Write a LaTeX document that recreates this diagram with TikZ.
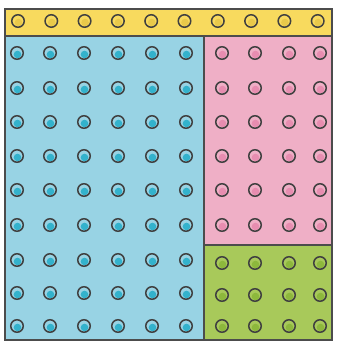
\documentclass[tikz,border=0pt]{standalone}
\usetikzlibrary{positioning}

\definecolor{stripyellow}{HTML}{F8DA5E}
\definecolor{zoneblue}{HTML}{98D3E4}
\definecolor{zonepink}{HTML}{EFAFC6}
\definecolor{zonegreen}{HTML}{A8C95A}
\definecolor{dotyellow}{HTML}{E9C94A}
\definecolor{dotblue}{HTML}{33B2CC}
\definecolor{dotpink}{HTML}{E78DB0}
\definecolor{dotgreen}{HTML}{8DB83C}

\begin{document}
\begin{tikzpicture}[
            x=1pt, y=-1pt,
            zone/.style={draw=black!70, line width=1.2pt},
            dot/.style={circle, draw=black!75, line width=1.5pt, minimum size=12.5pt, inner sep=0pt,
                path picture={\fill[#1] ([xshift=0.5pt,yshift=-1.5pt]path picture bounding box.center) circle (3.8pt);}}
        ]
            \useasboundingbox (0,0) rectangle (337,347);
            % Colour zones
            \fill[stripyellow] (5,9) rectangle (332,36);
            \fill[zoneblue] (5,36) rectangle (204,340);
            \fill[zonepink] (204,36) rectangle (332,245);
            \fill[zonegreen] (204,245) rectangle (332,340);
            \draw[zone] (5,36) -- (332,36);
            \draw[zone] (204,36) -- (204,340);
            \draw[zone] (204,245) -- (332,245);
            \draw[zone] (5,9) rectangle (332,340);
            % Top strip
            \foreach \i in {1,...,10} {
                \node[dot=dotyellow] (s\i) at ({18+(\i-1)*33.3}, 21) {};
            }
            % Blue block
            \foreach \r/\y in {1/53,2/88,3/122,4/156,5/190,6/225,7/260,8/293,9/326} {
                \foreach \c/\x in {1/17,2/50,3/84,4/118,5/152,6/186} {
                    \node[dot=dotblue] (b\r\c) at (\x, \y) {};
                }
            }
            % Pink block
            \foreach \r/\y in {1/53,2/88,3/122,4/156,5/190,6/225} {
                \foreach \c/\x in {1/222,2/255,3/289,4/320} {
                    \node[dot=dotpink] (p\r\c) at (\x, \y) {};
                }
            }
            % Green block
            \foreach \r/\y in {1/263,2/295,3/326} {
                \foreach \c/\x in {1/222,2/255,3/289,4/320} {
                    \node[dot=dotgreen] (g\r\c) at (\x, \y) {};
                }
            }
        \end{tikzpicture}
\end{document}
